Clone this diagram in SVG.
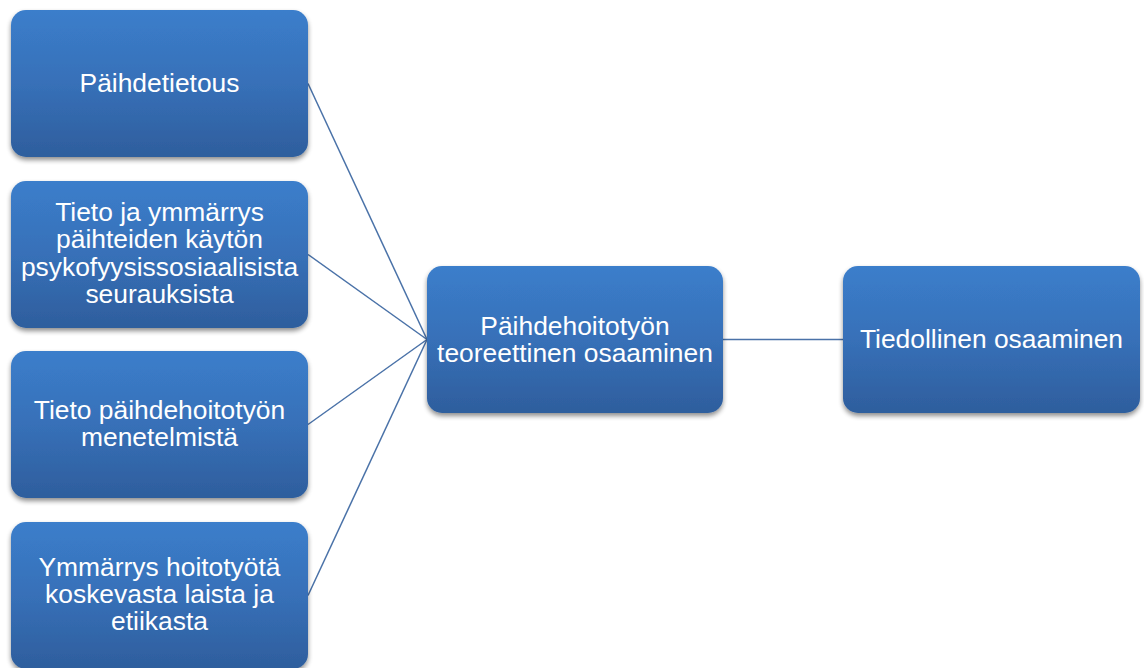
<svg xmlns="http://www.w3.org/2000/svg" width="1144" height="668" viewBox="0 0 1144 668">
<defs>
<linearGradient id="g" x1="0" y1="0" x2="0" y2="1">
<stop offset="0" stop-color="#3b7ecb"/>
<stop offset="0.5" stop-color="#3770b8"/>
<stop offset="1" stop-color="#2e5e9d"/>
</linearGradient>
<filter id="sh" x="-10%" y="-10%" width="120%" height="130%">
<feGaussianBlur in="SourceAlpha" stdDeviation="2.5"/>
<feOffset dx="0" dy="3" result="b"/>
<feComponentTransfer><feFuncA type="linear" slope="0.45"/></feComponentTransfer>
<feMerge><feMergeNode/><feMergeNode in="SourceGraphic"/></feMerge>
</filter>
</defs>
<style>
.box{fill:url(#g);filter:url(#sh);}
.t{font-family:"Liberation Sans",Arial,sans-serif;font-size:26.4px;fill:#ffffff;text-anchor:middle;}
.c{stroke:#4a72a8;stroke-width:1.5;fill:none;}
</style>
<rect width="1144" height="668" fill="#ffffff"/>
<g id="connectors">
<line class="c" x1="308" y1="83.5" x2="427" y2="339.5"/>
<line class="c" x1="308" y1="254.5" x2="427" y2="339.5"/>
<line class="c" x1="308" y1="424.5" x2="427" y2="339.5"/>
<line class="c" x1="308" y1="595.5" x2="427" y2="339.5"/>
<line class="c" x1="723" y1="339.5" x2="843" y2="339.5"/>
</g>
<g id="n1">
<rect class="box" x="11" y="10" width="297" height="147" rx="15"/>
<text class="t" x="159.5" y="91.5">Päihdetietous</text>
</g>
<g id="n2">
<rect class="box" x="11" y="181" width="297" height="147" rx="15"/>
<text class="t" x="159.5" y="221">Tieto ja ymmärrys</text>
<text class="t" x="159.5" y="248.3">päihteiden käytön</text>
<text class="t" x="159.5" y="275.6">psykofyysissosiaalisista</text>
<text class="t" x="159.5" y="302.9">seurauksista</text>
</g>
<g id="n3">
<rect class="box" x="11" y="351" width="297" height="147" rx="15"/>
<text class="t" x="159.5" y="418.5">Tieto päihdehoitotyön</text>
<text class="t" x="159.5" y="445.8">menetelmistä</text>
</g>
<g id="n4">
<rect class="box" x="11" y="522" width="297" height="147" rx="15"/>
<text class="t" x="159.5" y="575.5">Ymmärrys hoitotyötä</text>
<text class="t" x="159.5" y="602.8">koskevasta laista ja</text>
<text class="t" x="159.5" y="630.1">etiikasta</text>
</g>
<g id="n5">
<rect class="box" x="427" y="266" width="296" height="147" rx="15"/>
<text class="t" x="575" y="334.5">Päihdehoitotyön</text>
<text class="t" x="575" y="361.8">teoreettinen osaaminen</text>
</g>
<g id="n6">
<rect class="box" x="843" y="266" width="297" height="147" rx="15"/>
<text class="t" x="991.5" y="347.5">Tiedollinen osaaminen</text>
</g>
</svg>
